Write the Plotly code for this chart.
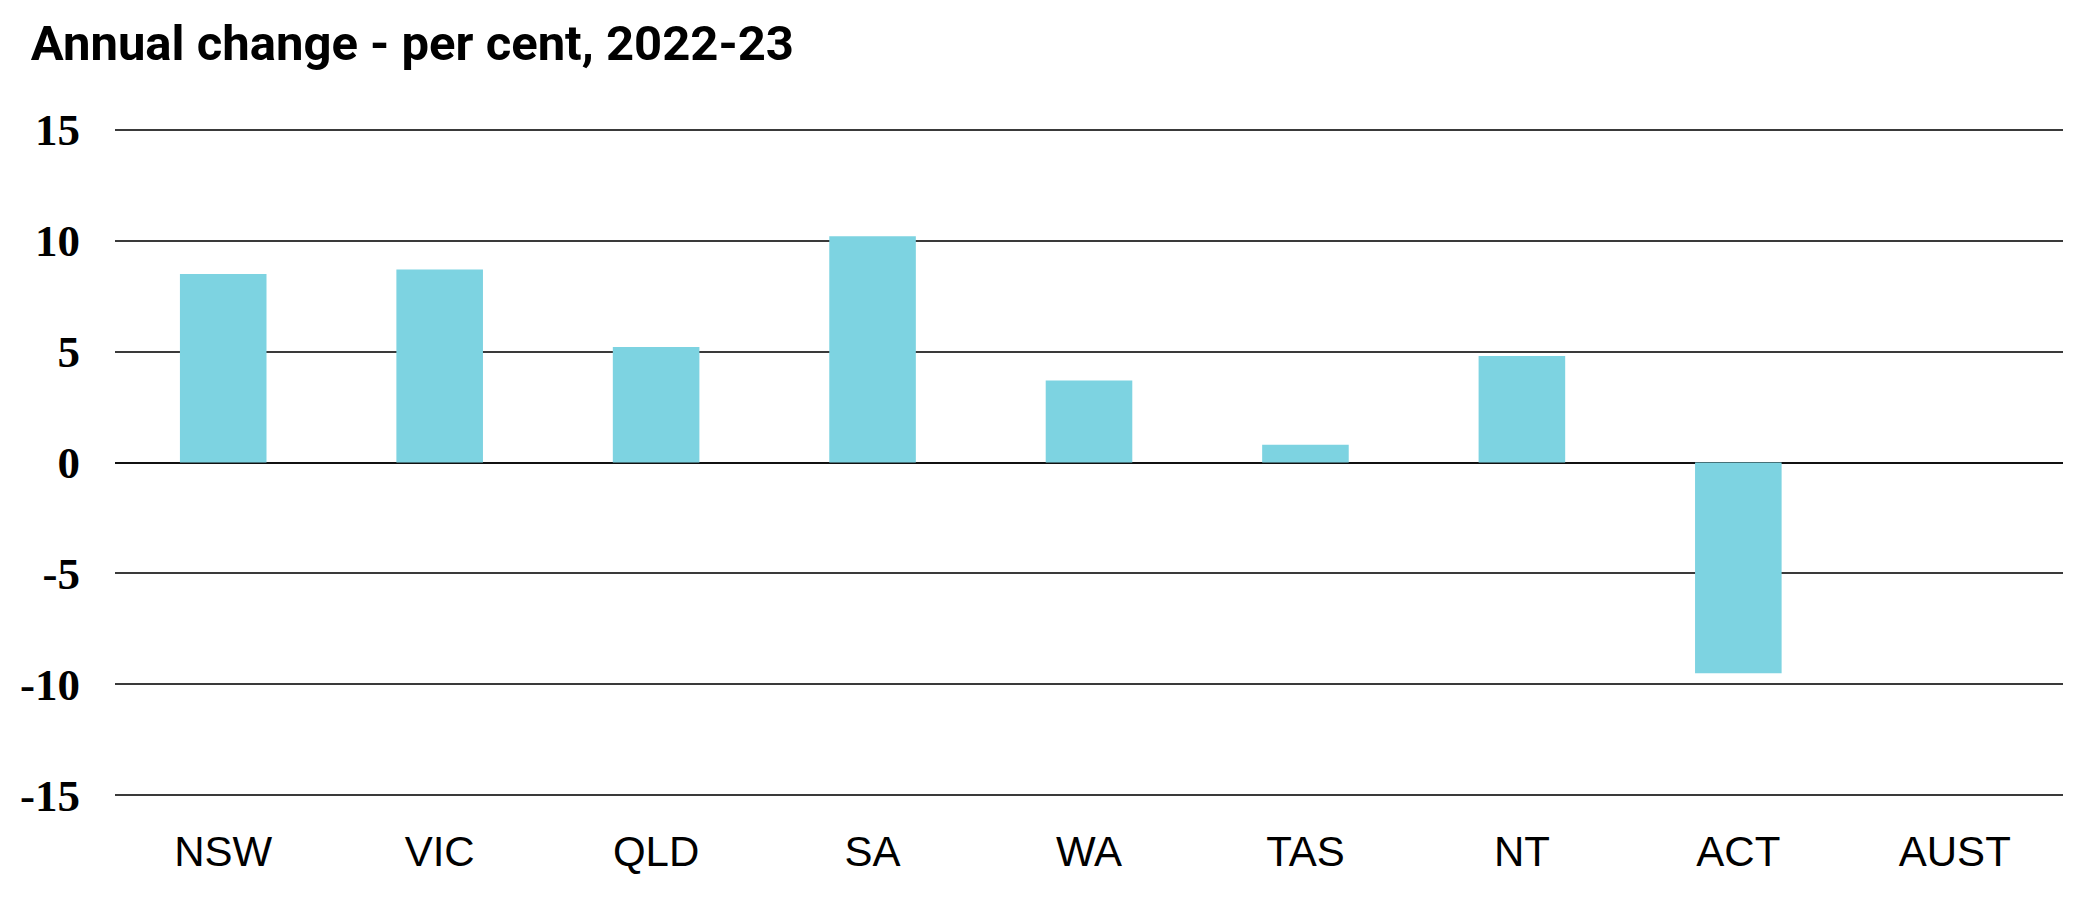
import plotly.graph_objects as go

TITLE = 'Annual change - per cent, 2022-23'

STATES = ['NSW', 'VIC', 'QLD', 'SA', 'WA', 'TAS', 'NT', 'ACT', 'AUST']
CHANGE_PCT = [8.5, 8.7, 5.2, 10.2, 3.7, 0.8, 4.8, -9.5, None]

Y_TICKS = [-15, -10, -5, 0, 5, 10, 15]
Y_TICK_LABELS = ['-15', '-10', '-5', '0', '5', '10', '15']

BAR_COLOR = '#7dd3e1'
GRID_COLOR = '#3a3a3a'

fig = go.Figure(
    go.Bar(x=STATES, y=CHANGE_PCT, marker_color=BAR_COLOR, marker_line_width=0)
)

fig.update_layout(
    width=2077, height=912,
    margin=dict(l=101, r=22, t=115, b=118),
    paper_bgcolor='white', plot_bgcolor='white',
    bargap=0.6,
    showlegend=False,
    title=dict(
        text=TITLE, xref='container', yref='container',
        x=0.011, xanchor='left', y=0.962, yanchor='middle',
        font=dict(family='Roboto', size=49, weight='bold', color='black'),
    ),
)

fig.update_xaxes(
    showgrid=False, showline=False, ticks='',
    tickfont=dict(family='Liberation Sans', size=42, color='black'),
    ticklabelstandoff=21,
)

# pad the range so plotly still draws the +/-15 gridlines
fig.update_yaxes(
    range=[-15.3, 15.3], tickvals=Y_TICKS, ticktext=Y_TICK_LABELS,
    showgrid=True, gridcolor=GRID_COLOR, gridwidth=1.6,
    zeroline=True, zerolinecolor='#111111', zerolinewidth=1.6,
    showline=False, ticks='',
    tickfont=dict(family='Liberation Serif', size=45, weight='bold', color='black'),
    ticklabelstandoff=34,
)

fig.write_html('out.html')
